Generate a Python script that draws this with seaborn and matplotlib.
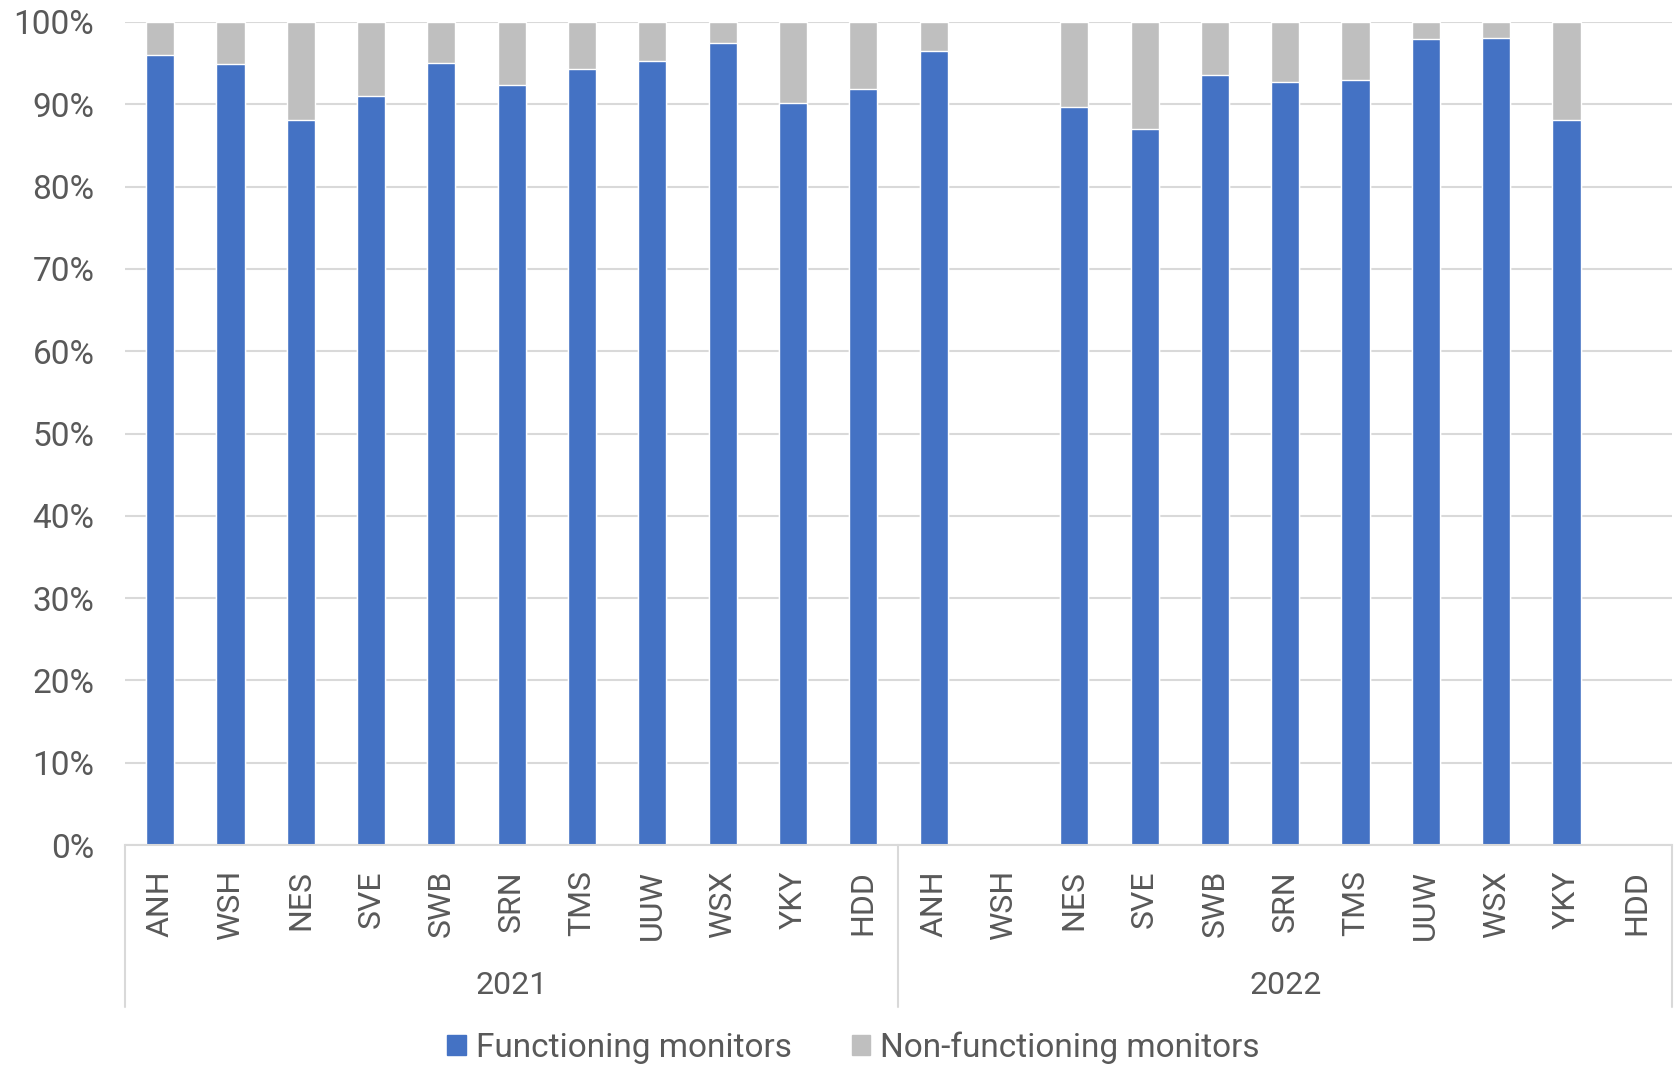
import numpy as np
import pandas as pd
import matplotlib
matplotlib.use("Agg")
import matplotlib.pyplot as plt
import matplotlib.transforms as mtransforms
from matplotlib.patches import Patch
import seaborn as sns

# ---------------------------------------------
# Data
# ---------------------------------------------
companies = ["ANH", "WSH", "NES", "SVE", "SWB", "SRN", "TMS", "UUW", "WSX", "YKY", "HDD"]
years = ["2021", "2022"]

functioning_2021 = [96.0, 94.9, 88.1, 91.0, 95.0, 92.3, 94.3, 95.2, 97.5, 90.2, 91.9]
functioning_2022 = [96.5, np.nan, 89.7, 87.0, 93.5, 92.7, 93.0, 97.9, 98.0, 88.1, np.nan]

non_functioning_2021 = [100 - v for v in functioning_2021]
non_functioning_2022 = [100 - v for v in functioning_2022]

BLUE = "#4472C4"
GREY = "#BFBFBF"
TEXT = "#595959"
LINE = "#D9D9D9"

rows = []
for yr, func, nonf in [("2021", functioning_2021, non_functioning_2021),
                       ("2022", functioning_2022, non_functioning_2022)]:
    for c, f, n in zip(companies, func, nonf):
        rows.append({"key": f"{yr} {c}", "year": yr, "company": c,
                     "functioning": f, "total": f + n})
df = pd.DataFrame(rows)
order = list(df["key"])

# ---------------------------------------------
# Plot
# ---------------------------------------------
sns.set_style("white")
plt.rcParams["font.family"] = ["Roboto", "DejaVu Sans"]

fig = plt.figure(figsize=(16.8, 10.67), dpi=100)
ax = fig.add_axes([0.0744, 0.208, 0.9208, 0.7714])

# stacked bars: grey total underneath, blue functioning on top
sns.barplot(data=df, x="key", y="total", order=order, color=GREY,
            width=0.4, saturation=1, errorbar=None, ax=ax)
sns.barplot(data=df, x="key", y="functioning", order=order, color=BLUE,
            width=0.4, saturation=1, errorbar=None, ax=ax)

ax.set_xlim(-0.5, len(order) - 0.5)
ax.set_ylim(0, 100)
ax.set_yticks(np.arange(0, 101, 10))
ax.set_yticklabels([f"{v}%" for v in range(0, 101, 10)])
ax.yaxis.grid(True, color=LINE, linewidth=1.5)
ax.set_axisbelow(True)
ax.set_xlabel("")
ax.set_ylabel("")

ax.set_xticks(range(len(order)))
ax.set_xticklabels(list(df["company"]), rotation=90)
ax.tick_params(axis="x", length=0, pad=18, labelsize=23, labelcolor=TEXT)
ax.tick_params(axis="y", length=0, pad=22, labelsize=24, labelcolor=TEXT)

for s in ["top", "right", "left"]:
    ax.spines[s].set_visible(False)
ax.spines["bottom"].set_color(LINE)
ax.spines["bottom"].set_linewidth(1.5)

# group separators and year labels
trans = mtransforms.blended_transform_factory(ax.transData, ax.transAxes)
for xpos in [-0.5, 10.5, 21.5]:
    ax.plot([xpos, xpos], [0, -0.197], transform=trans, color=LINE,
            linewidth=1.5, clip_on=False)
for i, yr in enumerate(years):
    ax.text(i * 11 + 5, -0.171, yr, transform=trans, ha="center", va="center",
            fontsize=23, color=TEXT)

handles = [Patch(color=BLUE, label="Functioning monitors"),
           Patch(color=GREY, label="Non-functioning monitors")]
leg = fig.legend(handles=handles, loc="center", bbox_to_anchor=(0.508, 0.018),
                 ncol=2, frameon=False, fontsize=24, handlelength=0.55,
                 handleheight=0.55, handletextpad=0.3, columnspacing=1.8)
for t in leg.get_texts():
    t.set_color(TEXT)

plt.savefig("out.png", dpi=100)
